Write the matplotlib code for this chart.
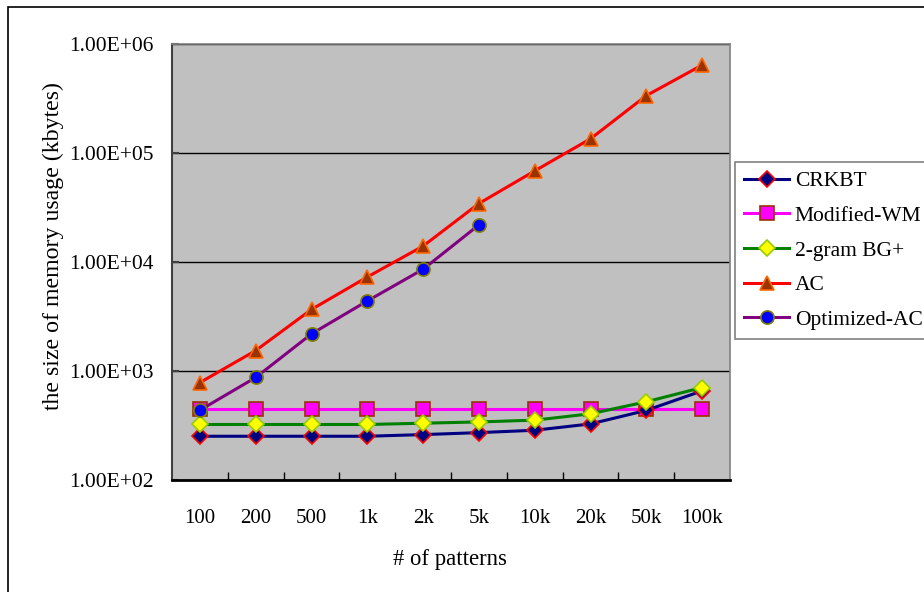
import matplotlib
matplotlib.use("Agg")
import matplotlib.pyplot as plt
from matplotlib.patches import Rectangle

categories = ["100", "200", "500", "1k", "2k", "5k", "10k", "20k", "50k", "100k"]
crkbt = [252, 252, 252, 252, 261, 272, 286, 327, 435, 657]
modified_wm = [450, 450, 450, 450, 450, 450, 450, 450, 450, 450]
bg2 = [323, 323, 323, 323, 332, 341, 354, 405, 522, 705]
ac = [783, 1540, 3670, 7280, 14000, 34400, 68500, 135000, 336000, 641000]
opt_ac = [437, 872, 2190, 4390, 8580, 21900]

plt.rcParams['font.family'] = ['Liberation Serif', 'DejaVu Serif']

fig = plt.figure(figsize=(9.24, 5.92), dpi=100)
ax = fig.add_axes([172/924, 1-480/592, (730-172)/924, (480-44)/592])
ax.set_facecolor('#C0C0C0')

x = list(range(len(categories)))
lw = 2.2
ax.plot(x, crkbt, color='#000080', lw=lw, marker='D', ms=7.8, mfc='#000080', mec='#FF0000', mew=1.2, label='CRKBT', zorder=5)
ax.plot(x, modified_wm, color='#FF00FF', lw=lw, marker='s', ms=9.8, mfc='#FF00FF', mec='#993300', mew=1.2, label='Modified-WM', zorder=4)
ax.plot(x, bg2, color='#008000', lw=lw, marker='D', ms=7.8, mfc='#FFFF00', mec='#99CC00', mew=1.2, label='2-gram BG+', zorder=6)
ax.plot(x, ac, color='#FF0000', lw=lw, marker='^', ms=10.5, mfc='#993300', mec='#FF6600', mew=1.2, label='AC', zorder=5)
ax.plot(x[:len(opt_ac)], opt_ac, color='#800080', lw=lw, marker='o', ms=9.5, mfc='#0000FF', mec='#808000', mew=1.2, label='Optimized-AC', zorder=7)

ax.set_yscale('log')
ax.set_ylim(100, 1e6)
ax.set_xlim(-0.5, 9.5)
ax.set_yticks([1e2, 1e3, 1e4, 1e5, 1e6])
ax.set_yticklabels(["1.00E+02", "1.00E+03", "1.00E+04", "1.00E+05", "1.00E+06"])
ax.yaxis.set_minor_locator(matplotlib.ticker.NullLocator())
ax.tick_params(axis='y', which='major', direction='in', length=5, width=1.5, color='#404040', labelsize=15.5, pad=13)
ax.grid(axis='y', which='major', color='black', lw=1.0)
ax.set_axisbelow(True)

ax.set_xticks([i + 0.5 for i in range(9)])
ax.set_xticklabels([])
ax.set_xticks(x, minor=True)
ax.set_xticklabels(categories, minor=True)
ax.tick_params(axis='x', which='major', direction='in', length=6, width=1, color='black')
ax.tick_params(axis='x', which='minor', length=0, labelsize=15, pad=21)

for s in ['top', 'right']:
    ax.spines[s].set_color('#808080')
    ax.spines[s].set_linewidth(1.2)
ax.spines['left'].set_color('#404040')
ax.spines['left'].set_linewidth(1.5)
ax.spines['bottom'].set_color('black')
ax.spines['bottom'].set_linewidth(2)

fig.text(53/924, 1-246/592, "the size of memory usage (kbytes)", rotation=90,
         ha='center', va='center', fontsize=17.2)
fig.text(450/924, 1-560/592, "# of patterns", ha='center', va='center', fontsize=16.4)

leg = fig.legend(loc='upper left', bbox_to_anchor=(735/924, 1-162/592), bbox_transform=fig.transFigure,
                 fontsize=15.5, frameon=True, fancybox=False, edgecolor='#606060',
                 handlelength=2.1, handletextpad=0.25, labelspacing=0.68, borderpad=0.42,
                 borderaxespad=0)
leg.get_frame().set_linewidth(1.2)

fig.patches.append(Rectangle((8/924, -0.1), 2, 1 - 7/592 + 0.1, transform=fig.transFigure,
                             fill=False, edgecolor='black', lw=1.2))

fig.savefig('out.png', dpi=100)
